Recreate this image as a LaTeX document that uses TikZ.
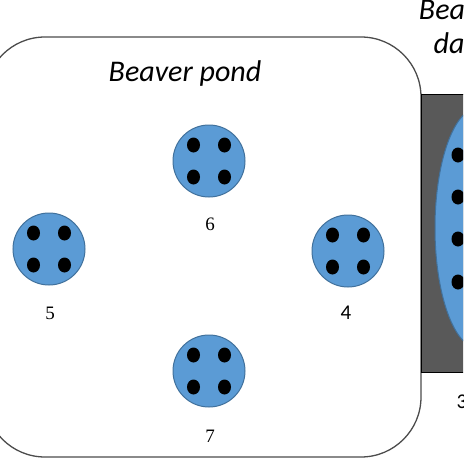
\documentclass[tikz,border=0pt]{standalone}
\usepackage{fontspec}
\setmainfont{Liberation Serif}
\newfontfamily\calibri{Carlito}
\definecolor{pondblue}{HTML}{5B9BD5}
\definecolor{pondedge}{HTML}{41719C}
\definecolor{damgray}{HTML}{595959}
\tikzset{
  pool/.style={circle,fill=pondblue,draw=pondedge,line width=1pt,minimum size=72pt,inner sep=0pt},
  hole/.style={ellipse,fill=black,minimum width=13pt,minimum height=15pt,inner sep=0pt},
  poolnum/.style={font=\fontsize{19}{19}\selectfont},
  poolnumsf/.style={font=\calibri\fontsize{21}{21}\selectfont},
  title/.style={font=\calibri\itshape\fontsize{30}{34}\selectfont,align=center}
}
\usetikzlibrary{shapes.geometric}
\begin{document}
\begin{tikzpicture}[x=1pt,y=-1pt]
\useasboundingbox (0,0) rectangle (463,463);
\clip (0,0) rectangle (463,463);
\coordinate (P4) at (348,251);
\coordinate (P5) at (49,249);
\coordinate (P6) at (209,161);
\coordinate (P7) at (209,371);
\coordinate (D) at (478,228);
% pond outline
\draw[gray!60!black,line width=1.3pt,rounded corners=60pt] (-15,37) rectangle (421,457);
\node[title] (pondtitle) at (185,74) {Beaver pond};
% dam
\draw[black,fill=damgray,line width=0.8pt] (421,94) rectangle (480,372);
\node[ellipse,fill=pondblue,draw=pondedge,line width=1pt,minimum width=86pt,minimum height=240pt,inner sep=0pt] (dam) at (D) {};
\node[hole] (d1) at (458,155) {};
\node[hole] (d2) at (458,197) {};
\node[hole] (d3) at (458,239) {};
\node[hole] (d4) at (458,282) {};
\node[title] (damtitle) at (461,27) {Beaver\\dam};
\node[poolnumsf] (lab3) at (462,402) {3};
% pools
\node[pool] (pool6) at (P6) {};
\node[hole] at ([shift={(-15.5,-16)}]P6) {};
\node[hole] at ([shift={(15.5,-16)}]P6) {};
\node[hole] at ([shift={(-15.5,16)}]P6) {};
\node[hole] at ([shift={(15.5,16)}]P6) {};
\node[poolnum] (lab6) at (210,224) {6};
\node[pool] (pool5) at (P5) {};
\node[hole] at ([shift={(-15.5,-16)}]P5) {};
\node[hole] at ([shift={(15.5,-16)}]P5) {};
\node[hole] at ([shift={(-15.5,16)}]P5) {};
\node[hole] at ([shift={(15.5,16)}]P5) {};
\node[poolnum] (lab5) at (50,313) {5};
\node[pool] (pool4) at (P4) {};
\node[hole] at ([shift={(-15.5,-16)}]P4) {};
\node[hole] at ([shift={(15.5,-16)}]P4) {};
\node[hole] at ([shift={(-15.5,16)}]P4) {};
\node[hole] at ([shift={(15.5,16)}]P4) {};
\node[poolnumsf] (lab4) at (346,313) {4};
\node[pool] (pool7) at (P7) {};
\node[hole] at ([shift={(-15.5,-16)}]P7) {};
\node[hole] at ([shift={(15.5,-16)}]P7) {};
\node[hole] at ([shift={(-15.5,16)}]P7) {};
\node[hole] at ([shift={(15.5,16)}]P7) {};
\node[poolnum] (lab7) at (210,436) {7};
\end{tikzpicture}
\end{document}
